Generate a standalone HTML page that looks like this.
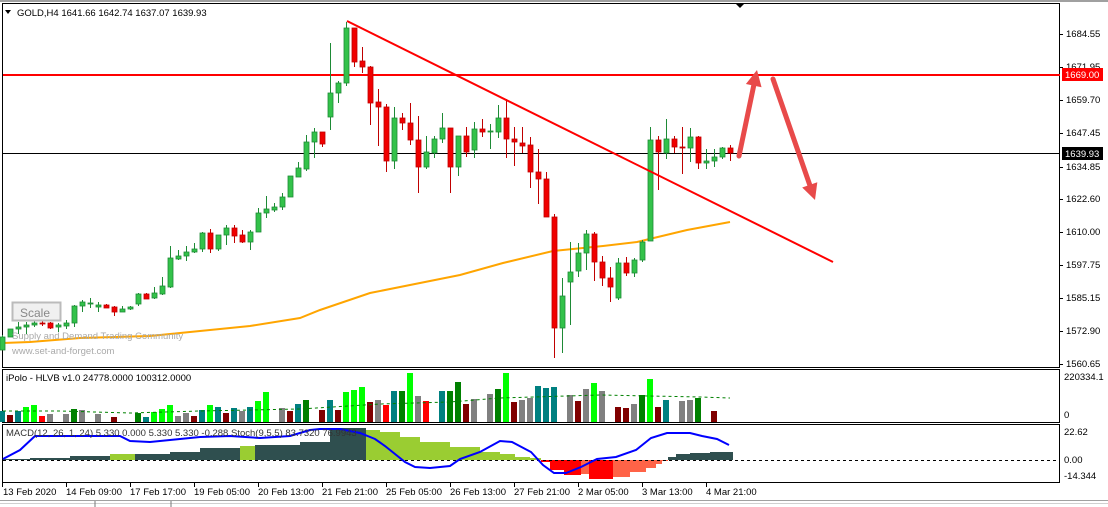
<!DOCTYPE html>
<html><head><meta charset="utf-8">
<style>
html,body{margin:0;padding:0;background:#fff;width:1108px;height:507px;overflow:hidden}
svg{display:block;font-family:"Liberation Sans",sans-serif}
</style></head>
<body>
<svg id="s" width="1108" height="507" viewBox="0 0 1108 507" xmlns="http://www.w3.org/2000/svg">
<rect x="0" y="0" width="1108" height="507" fill="#fff"/>
<line x1="0" y1="1" x2="1108" y2="1" stroke="#a0a0a0" stroke-width="2"/>
<!-- panels -->
<rect x="2.5" y="3.5" width="1057" height="364" fill="none" stroke="#000"/>
<rect x="2.5" y="369.5" width="1057" height="53" fill="none" stroke="#000"/>
<rect x="2.5" y="424.5" width="1057" height="58" fill="none" stroke="#000"/>
<line x1="0" y1="500.5" x2="1108" y2="500.5" stroke="#a0a0a0"/>
<line x1="0" y1="503.5" x2="1108" y2="503.5" stroke="#d0d0d0"/>
<line x1="95" y1="501" x2="95" y2="507" stroke="#777"/>
<line x1="171" y1="501" x2="171" y2="507" stroke="#777"/>
<g id="g"></g>
<!-- header -->
<polygon points="5,10 11,10 8,14" fill="#000"/>
<text x="17" y="16" font-size="9.5" fill="#000">GOLD,H4  1641.66 1642.74 1637.07 1639.93</text>
<polygon points="735,3 745,3 740,8" fill="#000"/>
<text x="6" y="381" font-size="9.5" fill="#000">iPolo - HLVB v1.0 24778.0000 100312.0000</text>
<text x="6" y="436" font-size="9.5" fill="#333">MACD(12, 26, 1, 24) 5.330 0.000 5.330 5.330 -0.288  Stoch(9,5,5) 83.7320 76.9943</text>
<!-- watermark / scale -->
<rect x="12.5" y="302.5" width="48" height="18" fill="#f0f0f0" stroke="#bbb" stroke-width="2"/>
<text x="20" y="317" font-size="12" fill="#888">Scale</text>
<text x="12" y="339" font-size="9.5" fill="#aaa">Supply and Demand Trading Community</text>
<text x="12" y="354" font-size="9.5" fill="#aaa">www.set-and-forget.com</text>
<!-- right axis labels -->
<g font-size="9.5" fill="#000">
<text x="1066" y="37">1684.55</text>
<text x="1066" y="70">1671.95</text>
<text x="1066" y="103">1659.70</text>
<text x="1066" y="136">1647.45</text>
<text x="1066" y="170">1634.85</text>
<text x="1066" y="202">1622.60</text>
<text x="1066" y="235">1610.00</text>
<text x="1066" y="268">1597.75</text>
<text x="1066" y="301">1585.15</text>
<text x="1066" y="334">1572.90</text>
<text x="1066" y="367">1560.65</text>
<text x="1064" y="380">220334.1</text>
<text x="1064" y="418">0</text>
<text x="1064" y="435">22.62</text>
<text x="1064" y="463">0.00</text>
<text x="1064" y="479">-14.344</text>
</g>
<rect x="1062" y="68" width="41" height="13" fill="#f00"/>
<text x="1065" y="78" font-size="9.5" fill="#fff">1669.00</text>
<rect x="1062" y="147" width="41" height="13" fill="#000"/>
<text x="1065" y="157" font-size="9.5" fill="#fff">1639.93</text>
<!-- time axis -->
<g font-size="9.5" fill="#000">
<text x="3" y="495">13 Feb 2020</text>
<text x="66" y="495">14 Feb 09:00</text>
<text x="130" y="495">17 Feb 17:00</text>
<text x="194" y="495">19 Feb 05:00</text>
<text x="258" y="495">20 Feb 13:00</text>
<text x="322" y="495">21 Feb 21:00</text>
<text x="386" y="495">25 Feb 05:00</text>
<text x="450" y="495">26 Feb 13:00</text>
<text x="514" y="495">27 Feb 21:00</text>
<text x="578" y="495">2 Mar 05:00</text>
<text x="642" y="495">3 Mar 13:00</text>
<text x="706" y="495">4 Mar 21:00</text>
</g>
</svg>
<script>
(function(){
var NS="http://www.w3.org/2000/svg",g=document.getElementById("g");
function el(t,a){var e=document.createElementNS(NS,t);for(var k in a)e.setAttribute(k,a[k]);g.appendChild(e);return e;}
// ticks
[2,66,130,194,258,322,386,450,514,578,642,706].forEach(function(x){el("line",{x1:x+.5,y1:483,x2:x+.5,y2:487,stroke:"#000"});});
[34,67,100,133,167,199,232,265,298,331,364].forEach(function(y){el("line",{x1:1060,y1:y+.5,x2:1063,y2:y+.5,stroke:"#000"});});
// MA
el("polyline",{points:"3,343 30,342 80,338 150,336 200,331 250,326 300,318 320,310 370,293 420,283 460,275 503,263 553,251 603,246 637,242 687,230 730,222",fill:"none",stroke:"#ffa500","stroke-width":2});
// horizontal lines
el("line",{x1:3,y1:75,x2:1060,y2:75,stroke:"#f00","stroke-width":2});
el("line",{x1:3,y1:153.5,x2:1060,y2:153.5,stroke:"#000","stroke-width":1});
// candles
var C=[
"g337,350,335,350","g329,337,329,337","g327,329,322,334","g325,327,322,334","g323,325,321,327","r323,324,321,326","r323,328,322,329","g325,327,323,332","g323,326,320,329","g306,323,305,327",
"g302,306,300,312","g303,304,298,308","g305,307,302,312","r305,308,304,308","r307,312,306,316","g309,312,306,312","g307,309,306,310","g294,304,293,306","r294,299,293,299","g293,298,287,299",
"g286,294,277,295","g258,287,246,288","g256,259,250,260","g252,256,246,261","g249,252,243,253","g233,249,232,252","r233,249,229,253","g235,249,235,251","g228,235,225,245","r228,236,225,243",
"r235,242,230,243","g232,242,230,250","g213,232,208,232","g209,213,196,218","g207,210,203,212","g197,207,193,210","g176,197,176,197","g168,177,162,177","g142,169,135,171","g132,142,128,158",
"r132,144,132,147","g93,117,43,130","g83,93,81,103","g28,83,22,86","r28,62,28,67","r61,67,47,73","r67,103,66,125","r102,107,89,146","r107,161,104,172","g118,161,107,169",
"r118,123,113,130","r123,140,103,145","r140,167,116,193","g152,167,136,169","g139,153,136,158","g128,139,113,143","r128,167,128,193","g136,167,136,176","r136,152,127,157","g129,150,122,158",
"r129,132,119,137","g131,132,124,149","g118,132,105,138","r118,139,99,158","r139,142,127,166","r143,146,127,153","r145,172,137,188","r172,179,149,204","r179,217,172,217","r217,328,214,358",
"g296,328,278,353","g272,282,242,325","g253,271,243,277","g234,253,230,270","r234,262,232,281","r262,278,256,286","r278,287,267,302","g263,298,258,300","r263,273,257,276","g260,273,258,277",
"g242,260,240,262","g140,241,127,241","r140,152,136,190","g139,153,119,159","r139,147,136,153","r147,148,127,174","g137,148,128,162","r137,163,136,169","g161,163,149,169","g157,161,149,167",
"g148,157,147,159","r148,153,145,161"];
C.forEach(function(s,i){
 var c=s[0],v=s.slice(1).split(",").map(Number),x=2+8*i;
 var st=c=="g"?"#1e8a36":"#c00000",fl=c=="g"?"#33c24a":"#f00000";
 el("line",{x1:x+.5,y1:v[2],x2:x+.5,y2:v[3],stroke:st});
 var h=Math.max(1,v[1]-v[0]);
 el("rect",{x:x-2,y:v[0],width:5,height:h,fill:fl,stroke:st,"stroke-width":0.8});
});
// trendline
el("line",{x1:347,y1:21,x2:833,y2:262,stroke:"#f00","stroke-width":2});
// arrows
function arrow(x1,y1,x2,y2){
 var dx=x2-x1,dy=y2-y1,L=Math.sqrt(dx*dx+dy*dy),ux=dx/L,uy=dy/L,hl=16,hw=8;
 var bx=x2-ux*hl,by=y2-uy*hl;
 el("line",{x1:x1,y1:y1,x2:bx,y2:by,stroke:"#e84a4a","stroke-width":5,"stroke-linecap":"round"});
 el("polygon",{points:x2+","+y2+" "+(bx-uy*hw)+","+(by+ux*hw)+" "+(bx+uy*hw)+","+(by-ux*hw),fill:"#e84a4a"});
}
arrow(739,156,757,70);
arrow(773,79,815,200);
// volume
var LI="#00ff00",DG="#008000",TE="#008080",GR="#808080",DR="#800000",RD="#ff0000";
var V={2:[TE,411],10:[DR,415],18:[TE,411],26:[LI,407],34:[LI,405],42:[RD,416],50:[GR,414],66:[GR,414],74:[DG,409],82:[GR,410],98:[GR,414],114:[DR,417],
138:[DG,413],146:[TE,417],154:[LI,412],162:[LI,409],170:[LI,405],178:[GR,416],186:[GR,413],194:[DR,416],202:[TE,410],210:[LI,405],218:[TE,407],226:[DR,413],
234:[TE,408],242:[GR,411],250:[TE,407],258:[LI,401],266:[LI,392],282:[GR,408],290:[DR,411],298:[TE,404],306:[DG,400],322:[DR,410],330:[TE,400],338:[DR,410],
346:[LI,392],354:[LI,390],362:[LI,387],370:[DR,402],378:[GR,400],386:[RD,405],394:[TE,391],402:[DG,391],410:[LI,373],418:[GR,396],426:[RD,401],442:[TE,391],
450:[DG,391],458:[DG,382],466:[DR,404],474:[GR,399],490:[GR,394],498:[DG,389],506:[LI,373],514:[DR,402],522:[GR,400],530:[GR,398],538:[TE,386],546:[TE,388],
554:[TE,387],570:[GR,395],578:[DR,401],586:[GR,389],594:[LI,383],602:[GR,391],618:[DR,407],626:[DR,408],634:[GR,404],642:[DG,395],650:[LI,379],658:[DR,407],
666:[TE,400],682:[GR,401],690:[GR,400],698:[DG,398],714:[DR,411]};
for(var k in V){var x=+k;el("rect",{x:x-3,y:V[k][1],width:6,height:422-V[k][1],fill:V[k][0]});}
el("polyline",{points:"3,411 60,411 130,413 200,411 300,409 380,404 450,402 500,398 600,395 700,397 730,398",fill:"none",stroke:"#008000","stroke-dasharray":"3,3"});
// MACD histogram
var H=[[3,30,459,"d"],[30,70,458,"d"],[70,110,456,"d"],[110,135,454,"l"],[135,170,454,"d"],[170,200,452,"d"],[200,240,448,"d"],[240,255,446,"l"],[255,300,445,"d"],
[300,330,442,"d"],[330,366,428,"d"],[366,380,430,"l"],[380,400,432,"l"],[400,420,437,"l"],[420,450,442,"l"],[450,480,447,"l"],[480,500,452,"l"],[500,515,454,"l"],[515,530,457,"l"],[530,541,458,"l"],
[668,676,457,"d"],[676,690,454,"d"],[690,710,453,"d"],[710,733,452,"d"]];
H.forEach(function(h){el("rect",{x:h[0],y:h[2],width:h[1]-h[0],height:460-h[2],fill:h[3]=="d"?"#2f4f4f":"#9acd32"});});
var N=[[541,550,462,"#f00"],[550,564,470,"#f00"],[564,581,475,"#f00"],[581,589,474,"#ff6347"],[589,613,479,"#f00"],[613,630,477,"#ff6347"],[630,646,472,"#ff6347"],[646,656,468,"#ff6347"],[656,662,464,"#ff6347"],[662,668,461,"#ff6347"]];
N.forEach(function(h){el("rect",{x:h[0],y:460,width:h[1]-h[0],height:h[2]-460,fill:h[3]});});
el("line",{x1:3,y1:460.5,x2:1060,y2:460.5,stroke:"#000","stroke-dasharray":"3,3"});
el("polyline",{points:"3,459 20,450 35,436 80,436 110,436 120,436 130,441 150,442 170,440 200,437 230,436 260,438 275,437 290,436 300,433 310,430 320,429 340,429 360,433 375,439 385,446 395,454 405,462 415,467 430,468 450,466 460,459 480,452 500,441 512,442 531,452 543,465 554,473 566,473 581,467 597,459 616,457 636,450 651,438 667,433 690,433 702,436 717,439 729,445",fill:"none",stroke:"#0000ff","stroke-width":2});
})();
</script>
</body></html>
